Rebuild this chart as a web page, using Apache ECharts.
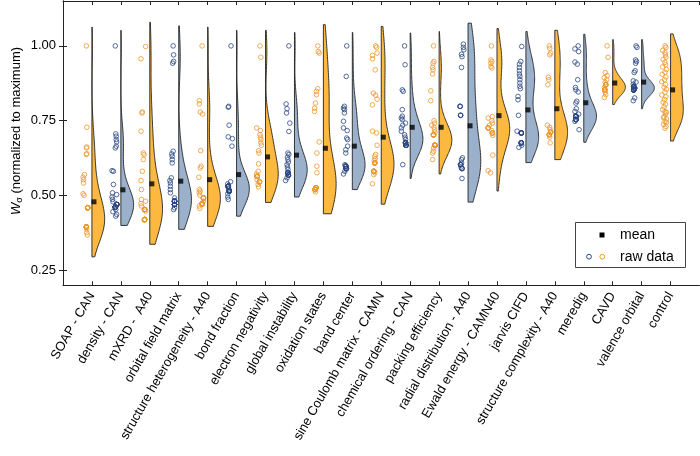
<!DOCTYPE html>
<html><head><meta charset="utf-8">
<script src="https://cdn.jsdelivr.net/npm/echarts@6/dist/echarts.min.js"></script>
<style>html,body{margin:0;padding:0;background:#fff}#c{width:700px;height:456px}</style>
</head><body><div id="c"></div>
<script>
const categories = ['SOAP - CAN','density - CAN','mXRD -  A40','orbital field matrix','structure heterogeneity - A40','bond fraction','electron negativity','global instability','oxidation states','band center','sine Coulomb matrix - CAMN','chemical ordering - CAN','packing efficiency','radial distribution - A40','Ewald energy - CAMN40','jarvis CIFD','structure complexity - A40','meredig','CAVD','valence orbital','control'];
const meanValues = [0.479,0.519,0.539,0.548,0.553,0.570,0.629,0.635,0.658,0.665,0.695,0.728,0.728,0.733,0.767,0.786,0.790,0.810,0.876,0.879,0.853];
const violinLow  = [0.295,0.400,0.337,0.387,0.397,0.431,0.477,0.495,0.439,0.520,0.471,0.557,0.572,0.478,0.515,0.610,0.620,0.678,0.804,0.790,0.682];
const violinHigh = [1.063,1.052,1.079,1.067,1.063,1.052,1.052,1.045,1.071,1.045,1.065,1.043,1.048,1.076,1.058,1.048,1.052,1.039,1.021,1.021,1.040];
const yTickValues = [0.25,0.50,0.75,1.00];

// raw values (repeated values = overlapping circles in the dense clusters)
const rawSOAP = [1.00,0.728,0.662,0.659,0.640,0.637,0.570,0.561,0.553,0.542,0.506,0.501,
  0.459,0.459,0.459,0.459,0.459,0.459,0.459,0.459,0.459,0.459,0.459,
  0.395,0.395,0.395,0.395,0.395,0.395,0.395,0.395,0.395,0.395,0.395,0.395,0.395,0.395,0.395,
  0.387,0.376,0.368];
const rawDensity = [1.00,0.706,0.698,0.687,0.679,0.665,0.659,0.583,0.581,0.537,0.509,0.503,0.495,0.487,0.479,
  0.470,0.470,0.470,0.470,0.470,0.470,0.470,0.470,0.470,0.470,0.470,
  0.461,0.461,0.461,0.461,0.461,0.461,0.461,0.461,0.461,0.461,0.461,
  0.453,0.446,0.437,0.431];
const rawMXRD = [0.998,0.957,0.779,0.776,0.715,0.642,0.637,0.620,0.581,0.550,0.520,0.487,0.481,0.473,0.465,
  0.453,0.453,0.453,0.453,0.453,0.453,0.453,0.453,0.448,
  0.420,0.420,0.420,0.420,0.420,0.420,0.417];
const rawOrbital = [1.00,0.970,0.948,0.942,0.648,0.639,0.631,0.620,0.609,0.559,0.550,0.542,0.531,0.520,0.509,0.492,
  0.481,0.481,0.481,0.481,0.481,0.481,0.481,0.481,0.481,0.481,0.481,
  0.470,0.470,0.470,0.470,0.470,0.470,0.470,0.470,0.470,0.470,0.470,0.470,0.470,
  0.459,0.453];
const rawStructHet = [1.00,0.817,0.806,0.779,0.772,0.650,0.598,0.592,0.561,0.520,0.515,0.509,0.501,
  0.492,0.492,0.492,0.492,0.492,0.492,0.492,0.492,0.492,0.481,
  0.472,0.472,0.472,0.472,0.472,0.472,0.472,0.472,0.465,0.457];
const rawBond = [1.00,0.798,0.795,0.735,0.696,0.690,0.665,0.546,0.539,
  0.531,0.531,0.531,0.531,0.531,0.531,0.531,0.531,0.531,0.531,0.531,0.531,0.523,
  0.515,0.515,0.515,0.515,0.515,0.515,0.515,0.515,0.515,0.515,0.515,
  0.506,0.495,0.487];
const rawElecNeg = [1.00,0.962,0.726,0.717,0.703,0.695,0.687,0.676,0.668,0.650,0.642,0.606,0.581,0.572,
  0.564,0.564,0.564,0.564,0.564,0.564,0.553,
  0.546,0.546,0.546,0.546,0.546,0.537,0.529];
const rawGlobal = [1.00,0.806,0.790,0.776,0.742,0.714,0.642,0.637,0.628,0.620,0.612,0.603,0.595,0.587,
  0.576,0.576,0.576,0.576,0.576,0.576,
  0.568,0.568,0.568,0.568,0.568,0.559,0.550];
const rawOxid = [1.00,0.981,0.976,0.857,0.848,0.837,0.809,0.792,0.781,0.679,0.642,0.598,0.576,
  0.526,0.526,0.526,0.526,0.526,0.526,
  0.520,0.520,0.520,0.520,0.520,0.520,0.512];
const rawBand = [1.00,0.898,0.798,0.792,0.787,0.776,0.748,0.726,0.717,0.692,0.687,0.665,0.653,0.642,0.603,
  0.598,0.598,0.598,0.598,0.598,0.598,0.598,
  0.590,0.590,0.590,0.590,0.590,0.590,0.590,0.590,0.581,0.572];
const rawSine = [1.00,0.995,0.976,0.968,0.957,0.920,0.842,0.835,0.822,0.803,0.715,0.709,0.668,0.637,0.631,0.623,0.617,
  0.609,0.609,0.609,0.609,0.609,0.609,0.609,0.609,
  0.581,0.581,0.581,0.581,0.581,0.581,0.581,0.576,0.570,0.539];
const rawChem = [1.00,0.937,0.853,0.848,0.787,0.765,0.759,0.754,0.742,0.735,0.726,0.715,0.703,0.695,0.687,
  0.676,0.676,0.676,0.676,0.676,0.676,
  0.668,0.668,0.668,0.668,0.668,0.668,0.603];
const rawPacking = [1.00,0.948,0.942,0.928,0.920,0.906,0.850,0.817,0.750,0.742,0.735,0.728,0.720,0.712,
  0.703,0.703,0.703,0.703,0.703,0.703,0.703,0.703,0.703,0.703,0.703,
  0.668,0.668,0.668,0.668,0.668,0.668,0.668,0.668,0.668,0.668,0.668,0.668,0.668,0.668,0.668,
  0.659,0.648,0.642,0.620];
const rawRadial = [1.006,0.995,0.987,0.972,0.964,0.928,0.798,0.798,0.798,0.768,0.768,0.768,0.626,0.620,0.609,
  0.603,0.603,0.603,0.603,0.595,0.590,0.590,0.590,0.557];
const rawEwald = [1.00,0.953,0.948,0.942,0.931,0.926,0.764,0.759,0.750,0.742,0.735,
  0.726,0.726,0.726,0.726,0.717,0.709,0.709,0.709,0.709,0.701,0.635,0.583,0.576];
const rawJarvis = [0.998,0.948,0.939,0.928,0.917,0.906,0.898,0.887,0.876,0.865,0.857,0.831,0.820,0.768,0.715,
  0.709,0.709,0.709,0.709,0.709,0.709,
  0.676,0.676,0.676,0.676,0.676,0.676,0.668,0.661];
const rawStructCx = [1.00,0.992,0.976,0.970,0.895,0.887,0.870,0.735,0.728,0.720,
  0.712,0.712,0.712,0.712,0.703,0.703,0.703,0.703,0.695,0.676];
const rawMeredig = [1.00,0.990,0.981,0.946,0.939,0.887,0.861,0.853,0.846,0.815,0.809,0.790,0.781,0.772,
  0.765,0.765,0.765,0.765,0.765,0.765,0.765,0.765,
  0.754,0.754,0.754,0.754,0.754,0.754,0.754,0.754,0.748,0.720];
const rawCAVD = [1.00,0.962,0.911,0.901,0.894,0.887,0.878,0.870,0.870,0.870,0.870,0.870,0.861,
  0.853,0.853,0.853,0.853,0.853,0.853,0.845,0.837,0.828];
const rawValence = [1.00,0.995,0.953,0.948,0.942,0.917,0.911,0.883,0.879,0.872,
  0.864,0.864,0.864,0.864,0.864,0.864,0.859,0.859,0.859,0.859,
  0.853,0.853,0.853,0.853,0.853,0.853,0.853,0.853,0.853,0.826,0.817];
const rawControl = [1.00,0.995,0.985,0.978,0.970,0.962,0.955,0.945,0.937,0.930,0.921,0.912,0.905,0.896,0.887,0.880,0.871,0.862,0.855,0.846,0.836,0.830,0.821,0.812,0.805,0.796,0.787,0.780,0.772,0.763,0.756,0.747,0.738,0.731,0.725,0.760,0.778,0.745];

const rawData = [rawSOAP,rawDensity,rawMXRD,rawOrbital,rawStructHet,rawBond,rawElecNeg,rawGlobal,rawOxid,rawBand,rawSine,rawChem,rawPacking,rawRadial,rawEwald,rawJarvis,rawStructCx,rawMeredig,rawCAVD,rawValence,rawControl];

const ORANGE_FILL = '#FDB83F', BLUE_FILL = '#9BB1CB';
const ORANGE_PT = '#EE982C', BLUE_PT = '#2B4883';
const FONT = 'Liberation Sans, Arial, Helvetica, sans-serif';
const HALF_W = 0.44;

function kdeProfile(vals, lo, hi){
  const n = vals.length;
  const mean = vals.reduce((a,b)=>a+b,0)/n;
  const sd = Math.sqrt(vals.reduce((a,b)=>a+(b-mean)*(b-mean),0)/(n-1));
  const u = 1.06*sd*Math.pow(n,-0.2);
  const m = 120, out = []; let mx = 0;
  for(let i=0;i<m;i++){
    const y = lo+(hi-lo)*i/(m-1); let d = 0;
    for(const v of vals){ const z=(y-v)/u; d += Math.exp(-0.5*z*z); }
    out.push({y:y,d:d}); if(d>mx) mx=d;
  }
  out.forEach(p=>p.d/=mx);
  return out;
}
const profiles = rawData.map((a,i)=>kdeProfile(a, violinLow[i], violinHigh[i]));

// horizontal jitter depends on the value only, so repeated values overlap exactly
function jitter(v){ const h = Math.round(v*1000); return (((h*37)%11)-5)*0.016; }
const orangePts = [], bluePts = [];
rawData.forEach((arr,i)=>{
  const k=i+1;
  arr.forEach(v=>{ (i%2===0?orangePts:bluePts).push([k-0.225+jitter(v), v]); });
});
const meanPts = meanValues.map((v,i)=>[i+1+0.07, v]);

const chart = echarts.init(document.getElementById('c'), null, {renderer:'canvas'});
const axisLine = {show:true, lineStyle:{color:'#222', width:1}};
chart.setOption({
  animation:false,
  backgroundColor:'#fff',
  grid:{left:63, right:0.5, top:1, bottom:170.7, containLabel:false, outerBoundsMode:'none'},
  xAxis:[
    {type:'value', min:0, max:22, interval:1, position:'bottom', axisLine:axisLine,
     axisTick:{inside:true, length:4, lineStyle:{color:'#222'}},
     axisLabel:{rotate:60, margin:8, fontSize:13, fontFamily:FONT, color:'#000', showMinLabel:false, showMaxLabel:false,
       formatter:v=>(v>=1&&v<=21)?categories[v-1]:''},
     splitLine:{show:false}},
    {type:'value', min:0, max:22, interval:1, position:'top', axisLine:axisLine,
     axisTick:{inside:true, length:4, lineStyle:{color:'#222'}}, axisLabel:{show:false}, splitLine:{show:false}}
  ],
  yAxis:[
    {type:'value', min:0.2, max:1.15, position:'left', axisLine:axisLine,
     axisTick:{inside:true, length:4, lineStyle:{color:'#222'}, customValues:yTickValues},
     axisLabel:{customValues:yTickValues, formatter:v=>v.toFixed(2), fontSize:13, fontFamily:FONT, color:'#000', margin:7},
     splitLine:{show:false}},
    {type:'value', min:0.2, max:1.15, position:'right', axisLine:axisLine,
     axisTick:{inside:true, length:4, lineStyle:{color:'#222'}, customValues:yTickValues},
     axisLabel:{show:false}, splitLine:{show:false}}
  ],
  series:[
    {type:'custom', data:categories.map((c,i)=>[i+1]), z:2, silent:true,
     renderItem:function(params, api){
       const k = api.value(0); const prof = profiles[k-1];
       const pts = [api.coord([k, prof[0].y])];
       prof.forEach(p=>pts.push(api.coord([k+p.d*HALF_W, p.y])));
       pts.push(api.coord([k, prof[prof.length-1].y]));
       return {type:'polygon', shape:{points:pts},
         style:{fill:(k%2===1)?ORANGE_FILL:BLUE_FILL, stroke:'#222', lineWidth:0.9}};
     }},
    {type:'scatter', name:'raw orange', data:orangePts, symbol:'circle', symbolSize:4.6, z:3, silent:true,
     itemStyle:{color:'rgba(0,0,0,0)', borderColor:ORANGE_PT, borderWidth:1}},
    {type:'scatter', name:'raw blue', data:bluePts, symbol:'circle', symbolSize:4.6, z:3, silent:true,
     itemStyle:{color:'rgba(0,0,0,0)', borderColor:BLUE_PT, borderWidth:1}},
    {type:'scatter', name:'mean', data:meanPts, symbol:'rect', symbolSize:5, z:4, silent:true,
     itemStyle:{color:'#000'}}
  ],
  graphic:[
    {type:'text', x:16, y:131, rotation:Math.PI/2, z:10,
     style:{text:'{w|W}{s|σ} (normalized to maximum)', fontSize:13, fontFamily:FONT, fill:'#000',
       align:'center', verticalAlign:'middle',
       rich:{w:{fontStyle:'italic', fontSize:13, fontFamily:FONT}, s:{fontSize:9, fontFamily:FONT, padding:[7,0,0,0]}}}},
    {type:'rect', z:10, shape:{x:575.5, y:222.5, width:110, height:45}, style:{fill:'#fff', stroke:'#444', lineWidth:1}},
    {type:'rect', z:11, shape:{x:599.5, y:232.5, width:5, height:5}, style:{fill:'#000'}},
    {type:'text', z:11, x:620, y:235, style:{text:'mean', fontSize:14, fontFamily:FONT, fill:'#000', verticalAlign:'middle'}},
    {type:'circle', z:11, shape:{cx:589, cy:256.7, r:2.4}, style:{fill:'none', stroke:BLUE_PT, lineWidth:1}},
    {type:'circle', z:11, shape:{cx:602.3, cy:256.7, r:2.4}, style:{fill:'none', stroke:ORANGE_PT, lineWidth:1}},
    {type:'text', z:11, x:620, y:257, style:{text:'raw data', fontSize:14, fontFamily:FONT, fill:'#000', verticalAlign:'middle'}}
  ]
});
</script></body></html>
